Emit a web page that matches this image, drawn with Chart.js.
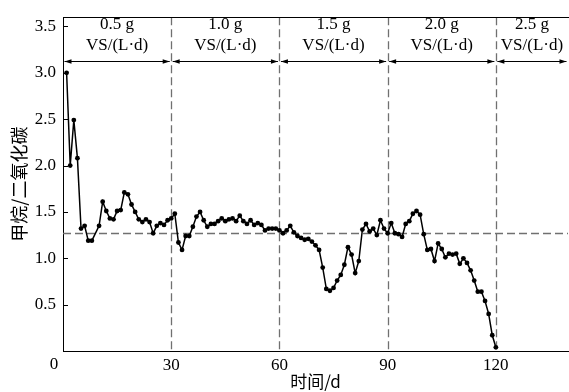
<!DOCTYPE html>
<html>
<head>
<meta charset="utf-8">
<script src="https://cdn.jsdelivr.net/npm/chart.js@4/dist/chart.umd.min.js"></script>
<style>
  html, body { margin: 0; padding: 0; background: #fff; overflow: hidden; }
  #wrap { width: 572px; height: 392px; }
</style>
</head>
<body>
<div id="wrap"><canvas id="myChart" width="572" height="392"></canvas></div>
<script>
// days and CH4/CO2 ratio
let days = [1, 2, 3, 4, 5, 6, 7, 8, 10, 11, 12, 13, 14, 15, 16, 17, 18, 19, 20, 21, 22, 23, 24, 25, 26, 27, 28, 29, 30,
    31, 32, 33, 34, 35, 36, 37, 38, 39, 40, 41, 42, 43, 44, 45, 46, 47, 48, 49, 50, 51, 52, 53, 54, 55, 56, 57, 58, 59, 60,
    61, 62, 63, 64, 65, 66, 67, 68, 69, 70, 71, 72, 73, 74, 75, 76, 77, 78, 79, 80, 81, 82, 83, 84, 85, 86, 87, 88, 89, 90,
    91, 92, 93, 94, 95, 96, 97, 98, 99, 100, 101, 102, 103, 104, 105, 106, 107, 108, 109, 110, 111, 112, 113, 114, 115, 116, 117, 118, 119, 120]
let ratio = [3.00, 2.00, 2.49, 2.08, 1.32, 1.35, 1.19, 1.19, 1.35, 1.61, 1.51, 1.43, 1.42, 1.51, 1.52, 1.71, 1.69, 1.58, 1.50, 1.42, 1.39, 1.42, 1.39, 1.27, 1.35, 1.38, 1.36, 1.41, 1.43,
    1.48, 1.17, 1.09, 1.24, 1.24, 1.34, 1.45, 1.50, 1.41, 1.34, 1.37, 1.37, 1.40, 1.43, 1.40, 1.42, 1.43, 1.40, 1.46, 1.40, 1.37, 1.41, 1.36, 1.38, 1.36, 1.30, 1.32, 1.32, 1.32, 1.30,
    1.27, 1.30, 1.35, 1.28, 1.24, 1.22, 1.20, 1.21, 1.18, 1.14, 1.09, 0.90, 0.67, 0.65, 0.68, 0.76, 0.82, 0.93, 1.12, 1.04, 0.84, 0.97, 1.31, 1.37, 1.29, 1.32, 1.25, 1.41, 1.32, 1.27,
    1.38, 1.27, 1.26, 1.23, 1.37, 1.40, 1.48, 1.51, 1.47, 1.26, 1.09, 1.10, 0.97, 1.16, 1.10, 1.01, 1.05, 1.04, 1.05, 0.94, 1.00, 0.95, 0.87, 0.76, 0.64, 0.64, 0.54, 0.40, 0.17, 0.04]

let xTicks = [0, 30, 60, 90, 120]
let yTicks = [0, 0.5, 1.0, 1.5, 2.0, 2.5, 3.0, 3.5]
let stageBounds = [0, 30, 60, 90, 120, 140]
let stageLabels = ['0.5 g', '1.0 g', '1.5 g', '2.0 g', '2.5 g']
let stageUnit = 'VS/(L\u00b7d)'
let refLevel = 1.27
let arrowLevel = 3.13

const serif = "'Liberation Serif', 'Times New Roman', serif"
const cjk = "'Noto Sans CJK SC', 'Liberation Serif', serif"

const decorations = {
    id: 'decorations',
    beforeDatasetsDraw: (chart) => {
        const {ctx, chartArea} = chart
        const xs = chart.scales.x, ys = chart.scales.y
        ctx.save()
        ctx.strokeStyle = '#707070'
        ctx.lineWidth = 1.3
        ctx.setLineDash([8, 4])
        for (let b of stageBounds.slice(1, 5)) {
            let px = Math.round(xs.getPixelForValue(b)) + 0.5
            ctx.beginPath()
            ctx.moveTo(px, chartArea.top)
            ctx.lineTo(px, chartArea.bottom)
            ctx.stroke()
        }
        let py = Math.round(ys.getPixelForValue(refLevel)) + 0.5
        ctx.beginPath()
        ctx.moveTo(chartArea.left, py)
        ctx.lineTo(chartArea.right, py)
        ctx.stroke()
        ctx.restore()
    },
    afterDraw: (chart) => {
        const {ctx, chartArea} = chart
        const xs = chart.scales.x, ys = chart.scales.y
        ctx.save()
        // top frame
        ctx.strokeStyle = '#000'
        ctx.lineWidth = 1
        ctx.beginPath()
        ctx.moveTo(chartArea.left, Math.round(chartArea.top) + 0.5)
        ctx.lineTo(chartArea.right + 2, Math.round(chartArea.top) + 0.5)
        ctx.stroke()
        // inner y ticks
        for (let v of yTicks.slice(1)) {
            let py = Math.round(ys.getPixelForValue(v)) + 0.5
            ctx.beginPath()
            ctx.moveTo(chartArea.left, py)
            ctx.lineTo(chartArea.left + 5, py)
            ctx.stroke()
        }
        // origin label
        ctx.fillStyle = '#000'
        ctx.font = '17px ' + serif
        ctx.textAlign = 'center'
        ctx.textBaseline = 'top'
        ctx.fillText('0', chartArea.left - 9, chartArea.bottom + 5)

        // double arrows + stage labels
        let ay = Math.round(ys.getPixelForValue(arrowLevel)) + 0.5
        const head = (x, dir) => {
            ctx.beginPath()
            ctx.moveTo(x, ay)
            ctx.lineTo(x + dir * 7, ay - 2.3)
            ctx.lineTo(x + dir * 7, ay + 2.3)
            ctx.closePath()
            ctx.fill()
        }
        for (let i = 0; i < stageLabels.length; i++) {
            let x1 = xs.getPixelForValue(stageBounds[i]) + 1.5
            let x2 = Math.min(xs.getPixelForValue(stageBounds[i + 1]) - 1.5, 567)
            ctx.lineWidth = 1.2
            ctx.beginPath()
            ctx.moveTo(x1, ay)
            ctx.lineTo(x2, ay)
            ctx.stroke()
            head(x1, 1)
            head(x2, -1)
            let cx = xs.getPixelForValue((stageBounds[i] + stageBounds[i + 1]) / 2)
            ctx.textBaseline = 'middle'
            ctx.fillText(stageLabels[i], cx, 25)
            ctx.fillText(stageUnit, cx, 46)
        }
        ctx.restore()
    }
}

new Chart(document.getElementById('myChart'), {
    type: 'line',
    data: {
        datasets: [{
            data: days.map((d, i) => ({x: d, y: ratio[i]})),
            borderColor: '#000',
            backgroundColor: '#000',
            borderWidth: 1.5,
            pointRadius: 2.4,
            pointBorderWidth: 0,
            tension: 0
        }]
    },
    options: {
        responsive: false,
        animation: false,
        devicePixelRatio: 1,
        layout: {padding: {top: 11, right: 1, left: 0, bottom: 0}},
        plugins: {legend: {display: false}, tooltip: {enabled: false}},
        scales: {
            x: {
                type: 'linear',
                min: 0,
                max: 140,
                afterBuildTicks: (s) => { s.ticks = xTicks.map(v => ({value: v})) },
                afterFit: (s) => { s.height = 41 },
                ticks: {
                    color: '#000',
                    padding: 4,
                    maxRotation: 0,
                    font: {family: serif, size: 17},
                    callback: (v) => v === 0 ? '' : String(v)
                },
                grid: {display: false, drawTicks: false},
                border: {display: true, color: '#000', width: 1},
                title: {
                    display: true,
                    text: '时间/d',
                    color: '#000',
                    font: {family: cjk, size: 17},
                    padding: {top: 5, bottom: 0}
                }
            },
            y: {
                min: 0,
                max: 3.6,
                afterBuildTicks: (s) => { s.ticks = yTicks.map(v => ({value: v})) },
                afterFit: (s) => { s.width = 63 },
                ticks: {
                    color: '#000',
                    padding: 7,
                    font: {family: serif, size: 17},
                    callback: (v) => v === 0 ? '' : v.toFixed(1)
                },
                grid: {display: false, drawTicks: false},
                border: {display: true, color: '#000', width: 1},
                title: {
                    display: true,
                    text: '甲烷/二氧化碳',
                    color: '#000',
                    font: {family: cjk, size: 18},
                    padding: {top: 8, bottom: 0}
                }
            }
        }
    },
    plugins: [decorations]
})
</script>
</body>
</html>
